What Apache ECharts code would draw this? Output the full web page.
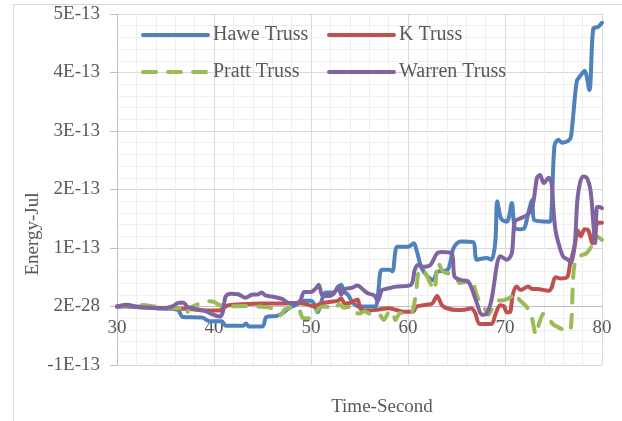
<!DOCTYPE html>
<html>
<head>
<meta charset="utf-8">
<script src="https://cdn.jsdelivr.net/npm/echarts@6/dist/echarts.min.js"></script>
<style>
html,body{margin:0;padding:0;background:#fff;}
#chart{width:622px;height:421px;}
</style>
</head>
<body>
<div id="chart"></div>
<script>
// Values in units of 1E-13 Jul, time in seconds
var seriesNames = ['Hawe Truss', 'K Truss', 'Pratt Truss', 'Warren Truss'];
var yTickValues = [-1, 0, 1, 2, 3, 4, 5];
var yTickLabels = ['-1E-13', '2E-28', '1E-13', '2E-13', '3E-13', '4E-13', '5E-13'];

var haweTruss = [
  [30,0],[32,0],[34,-0.03],[35.5,-0.04],[36.3,-0.06],[36.8,-0.18],[38.8,-0.19],[39.5,-0.25],
  [40.8,-0.25],[41.2,-0.33],[43,-0.33],[43.3,-0.29],[43.6,-0.34],[45,-0.34],[45.4,-0.18],
  [46.5,-0.16],[47.2,-0.1],[47.8,-0.02],[48.5,0.03],[49.2,0.1],[50,0.1],[50.3,0.05],[50.7,-0.1],
  [51.1,0.1],[51.5,0.24],[52.3,0.24],[52.6,0.28],[53.1,0.37],[53.4,0.26],[53.8,0.2],[54.4,0.05],
  [55,0],[56.6,0],[56.9,0.2],[57.3,0.63],[58.1,0.63],[58.4,0.6],[58.9,1.02],[60,1.02],
  [60.6,1.08],[60.9,0.95],[61.4,0.66],[62,0.52],[62.6,0.45],[63,0.59],[64.1,0.63],[64.7,1.0],
  [65.4,1.11],[66.7,1.1],[67.1,0.8],[68.1,0.83],[68.6,0.8],[69,1.1],[69.2,1.8],[69.6,1.5],
  [70.2,1.45],[70.7,1.77],[71,1.35],[71.5,1.32],[72,1.34],[72.4,1.6],[72.8,1.82],[73,1.48],
  [74.6,1.45],[74.8,1.65],[75.1,2.75],[75.5,2.85],[75.9,2.8],[76.5,2.83],[76.8,2.9],[77.4,3.85],
  [77.8,3.95],[78.2,4.03],[78.7,3.7],[79.1,4.75],[79.6,4.78],[80,4.85]
];

var kTruss = [
  [30,0],[31,0.01],[32,-0.01],[34,-0.02],[36,-0.03],[37,-0.04],[38,-0.05],[39,-0.07],
  [40.5,-0.07],[41,-0.02],[41.5,0.02],[43,0.04],[45,0.05],[47,0.05],[48.5,0.06],[49.5,0.04],
  [50.3,0],[51,0.05],[52,0.08],[52.8,0.1],[53.1,0.14],[53.5,0.05],[54.2,0.07],[54.8,0.12],
  [55.1,-0.04],[56,-0.07],[57,-0.05],[58,-0.03],[58.8,-0.06],[59.5,-0.09],[60.5,-0.09],
  [60.9,0],[61.9,0.03],[62.5,0.05],[63,0.18],[63.5,0.02],[64,-0.03],[65,-0.06],[66,-0.05],
  [66.5,-0.03],[66.9,-0.1],[67.4,-0.3],[68.6,-0.3],[69,-0.14],[69.5,0.02],[69.9,0],[70.2,-0.1],
  [70.5,-0.1],[70.8,0.2],[71.2,0.34],[71.6,0.28],[72.4,0.34],[72.8,0.3],[73.3,0.3],[74.5,0.27],
  [74.8,0.32],[75.2,0.5],[75.7,0.48],[76.4,0.5],[76.7,0.72],[77.2,1.05],[77.5,1.3],[77.8,1.2],
  [78.2,1.32],[78.6,1.3],[79,1.08],[79.3,1.3],[79.6,1.43],[80,1.43]
];

var prattTruss = [
  [30,0],[31,0.02],[32,0.03],[33.5,0.01],[35,-0.03],[36.5,-0.03],[36.8,-0.1],[37.1,-0.13],
  [37.5,-0.03],[38.2,0.03],[38.8,0.07],[39.5,0.09],[40,0.08],[40.5,0.03],[41.5,0],[43,0.01],
  [44.5,0],[45.8,-0.02],[46.3,-0.1],[46.8,-0.15],[47.3,-0.05],[48,-0.02],[48.7,-0.03],
  [49.2,-0.2],[50.2,-0.2],[50.7,-0.05],[51.3,0],[52,-0.02],[52.5,-0.04],[52.9,0.04],
  [53.4,-0.02],[54.1,0],[54.5,-0.1],[55,-0.12],[55.5,-0.08],[56,-0.12],[57,-0.13],[57.5,-0.23],
  [58,-0.1],[58.4,-0.08],[58.7,-0.23],[59.2,-0.11],[59.9,-0.14],[60.4,-0.1],[60.7,0.1],
  [60.9,0.35],[61.2,0.63],[61.7,0.6],[62.2,0.43],[62.7,0.28],[63.1,0.75],[63.6,0.6],
  [64.3,0.56],[64.9,0.55],[65.3,0.4],[66,0.42],[66.7,0.44],[66.9,0.3],[67.3,0.11],[68,-0.06],
  [68.3,-0.14],[68.6,-0.06],[69.2,0.09],[69.9,0.11],[70.7,0.17],[71,0.23],[71.5,0.11],
  [72.2,0],[72.7,-0.15],[73.2,-0.48],[73.5,-0.3],[74,-0.12],[74.5,-0.2],[75,-0.31],
  [75.8,-0.38],[76.5,-0.43],[76.8,-0.35],[77,0.4],[77.2,0.74],[77.7,0.86],[78.4,0.91],
  [79.1,1.08],[79.4,1.2],[80,1.14]
];

var warrenTruss = [
  [30,0],[31,0.03],[32.1,-0.01],[33.5,-0.02],[34.7,-0.03],[35.7,0],[36.3,0.06],[36.8,0.07],
  [37.3,-0.01],[38.1,-0.04],[39,-0.07],[39.9,-0.14],[40.6,-0.17],[40.9,-0.1],[41.2,0.17],
  [41.7,0.22],[42.5,0.21],[43.2,0.15],[43.9,0.2],[44.6,0.21],[44.9,0.24],[45.3,0.19],[46,0.17],
  [47,0.13],[47.8,0.06],[48.5,0.06],[48.9,0.1],[49.3,0.25],[50,0.25],[50.5,0.31],[50.8,0.37],
  [51.2,0.18],[51.9,0.18],[52.4,0.23],[52.8,0.34],[53.1,0.2],[53.5,0.3],[54.2,0.32],[54.8,0.36],
  [55.3,0.3],[55.8,0.23],[56.5,0.19],[56.9,0.1],[57.3,0.28],[57.7,0.3],[58.8,0.34],[60.3,0.37],
  [60.7,0.63],[61,0.71],[61.5,0.68],[62.3,0.71],[63,0.91],[63.5,0.93],[64.5,0.91],[64.8,0.51],
  [65.5,0.45],[66.2,0.43],[67.1,0.06],[67.6,-0.14],[68.1,-0.12],[68.6,0.11],[69.2,0.74],
  [69.5,0.86],[70.2,0.8],[70.7,0.91],[71,1.45],[71.5,1.5],[72.4,1.58],[72.9,1.77],[73.3,2.2],
  [73.6,2.25],[74,2.11],[74.5,2.2],[74.8,2.1],[75,1.65],[75.2,1.31],[75.5,1.09],[76,0.85],
  [76.5,0.8],[76.8,0.74],[77.2,1.08],[77.5,1.88],[78,2.22],[78.3,2.22],[78.8,2.0],[79.1,1.43],
  [79.3,1.08],[79.5,1.7],[79.8,1.7],[80,1.68]
];

var seriesData = [haweTruss, kTruss, prattTruss, warrenTruss];
var colors = ['#4F81BD', '#C0504D', '#9BBB59', '#8064A2'];
var lineTypes = ['solid', 'solid', [13, 12], 'solid'];

var FONT = '"Liberation Serif","Times New Roman",serif';
var TXT = '#595959';
var Y_MIN = -1, Y_MAX = 5;
var GRID = {left: 117, right: 20, top: 14, bottom: 56};
var plotHeight = 421 - GRID.top - GRID.bottom;
// x axis sits on the zero line of the y scale
var xAxisOffset = -plotHeight * (0 - Y_MIN) / (Y_MAX - Y_MIN);

var chart = echarts.init(document.getElementById('chart'), null, {renderer: 'canvas'});

var series = seriesNames.map(function (name, i) {
  return {
    name: name,
    type: 'line',
    data: seriesData[i],
    smooth: 0.3,
    symbol: 'none',
    lineStyle: {color: colors[i], width: 4, type: lineTypes[i], cap: 'round', join: 'round'},
    itemStyle: {color: colors[i]},
    z: 2 + i
  };
});

var legendPos = [[141, 25], [327, 25], [141, 62], [327, 62]];
var legends = seriesNames.map(function (name, i) {
  return {
    data: [name],
    left: legendPos[i][0],
    top: legendPos[i][1],
    padding: 0,
    itemWidth: 65,
    itemHeight: 20,
    itemGap: 5,
    selectedMode: false,
    itemStyle: {opacity: 0},
    lineStyle: {width: 4, color: colors[i], type: lineTypes[i], opacity: 1},
    textStyle: {fontFamily: FONT, fontSize: 20, color: TXT}
  };
});

chart.setOption({
  animation: false,
  backgroundColor: '#ffffff',
  color: colors,
  grid: {left: GRID.left, right: GRID.right, top: GRID.top, bottom: GRID.bottom, containLabel: false},
  legend: legends,
  xAxis: {
    type: 'value',
    min: 30, max: 80, interval: 10,
    offset: xAxisOffset,
    axisLine: {show: true, onZero: false, lineStyle: {color: '#bfbfbf', width: 1}},
    axisTick: {show: false},
    axisLabel: {fontFamily: FONT, fontSize: 19, color: TXT, margin: 12, showMinLabel: true, showMaxLabel: true},
    splitLine: {show: true, lineStyle: {color: '#d9d9d9', width: 1}},
    minorTick: {show: false, splitNumber: 5},
    minorSplitLine: {show: true, lineStyle: {color: '#efefef', width: 1}}
  },
  yAxis: {
    type: 'value',
    min: Y_MIN, max: Y_MAX, interval: 1,
    axisLine: {show: true, onZero: false, lineStyle: {color: '#bfbfbf', width: 1}},
    axisTick: {show: true, length: 7, inside: false, lineStyle: {color: '#bfbfbf'}},
    axisLabel: {
      fontFamily: FONT, fontSize: 19, color: TXT, margin: 17,
      formatter: function (v) {
        var idx = yTickValues.indexOf(Math.round(v));
        return idx >= 0 ? yTickLabels[idx] : '';
      }
    },
    splitLine: {show: true, lineStyle: {color: '#d9d9d9', width: 1}},
    minorTick: {show: false, splitNumber: 5},
    minorSplitLine: {show: true, lineStyle: {color: '#efefef', width: 1}}
  },
  graphic: [
    {type: 'rect', left: 11, top: 2, z: -10, silent: true,
     shape: {width: 700, height: 500},
     style: {fill: 'none', stroke: '#d9d9d9', lineWidth: 1}},
    {type: 'text', x: 33, y: 234, rotation: Math.PI / 2, silent: true,
     style: {text: 'Energy-Jul', font: '19px ' + FONT, fill: TXT, align: 'center', verticalAlign: 'middle'}},
    {type: 'text', x: 382, y: 407, silent: true,
     style: {text: 'Time-Second', font: '19px ' + FONT, fill: TXT, align: 'center', verticalAlign: 'middle'}}
  ],
  series: series
});
</script>
</body>
</html>
